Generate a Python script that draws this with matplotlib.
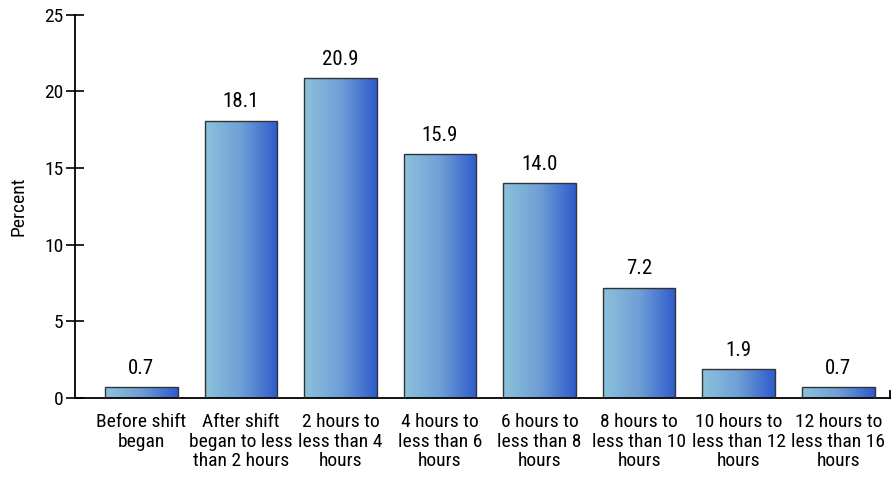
import numpy as np
import matplotlib.pyplot as plt
from matplotlib import font_manager
from matplotlib.colors import LinearSegmentedColormap

# pick a narrow font if one is installed
names = {f.name for f in font_manager.fontManager.ttflist}
narrow = [n for n in ['Liberation Sans Narrow', 'Roboto Condensed', 'Open Sans Condensed',
                      'Noto Sans Condensed', 'DejaVu Sans Condensed'] if n in names]
condensed_dejavu = any(f.name == 'DejaVu Sans' and f.stretch == 'condensed'
                       for f in font_manager.fontManager.ttflist)
if narrow:
    plt.rcParams['font.family'] = [narrow[0], 'DejaVu Sans']
    fs = 14
elif condensed_dejavu:
    plt.rcParams['font.family'] = ['DejaVu Sans']
    plt.rcParams['font.stretch'] = 'condensed'
    fs = 12
else:
    plt.rcParams['font.family'] = ['Roboto', 'DejaVu Sans']
    fs = 11.5

# Data
categories = ['Before shift\nbegan', 'After shift\nbegan to less\nthan 2 hours',
              '2 hours to\nless than 4\nhours', '4 hours to\nless than 6\nhours',
              '6 hours to\nless than 8\nhours', '8 hours to\nless than 10\nhours',
              '10 hours to\nless than 12\nhours', '12 hours to\nless than 16\nhours']
values = [0.7, 18.1, 20.9, 15.9, 14.0, 7.2, 1.9, 0.7]
yticks = [0, 5, 10, 15, 20, 25]

fig = plt.figure(figsize=(8.94, 4.8), dpi=100)
ax = fig.add_axes([0.084, 0.171, 0.9115, 0.798])

cmap = LinearSegmentedColormap.from_list('grad', ['#8cc2dc', '#6f9fd6', '#2e5bcb'])
grad = np.linspace(0, 1, 256).reshape(1, -1)

x = np.arange(len(values))
bars = ax.bar(x, values, width=0.73, color='none', edgecolor='#333333', linewidth=1.0, zorder=3)
for b in bars:
    x0, y0 = b.get_x(), b.get_y()
    w, h = b.get_width(), b.get_height()
    im = ax.imshow(grad, cmap=cmap, aspect='auto', extent=[x0, x0 + w, y0, y0 + h],
                   origin='lower', zorder=2)
    im.set_clip_path(b)
    ax.text(x0 + w / 2, h + 0.6, f'{h:.1f}', ha='center', va='bottom', fontsize=fs + 1)

ax.set_xlim(-0.666, 7.52)
ax.set_ylim(0, 25)
ax.set_yticks(yticks)
ax.set_xticks(x)
ax.set_xticklabels(categories, fontsize=fs, linespacing=1.1)
ax.tick_params(axis='x', length=0, pad=11)
ax.tick_params(axis='y', direction='inout', length=13, width=1.2, labelsize=fs, pad=2)
ax.set_ylabel('Percent', fontsize=fs, labelpad=12)

for s in ['top', 'right']:
    ax.spines[s].set_visible(False)
ax.spines['left'].set_linewidth(1.3)
ax.spines['bottom'].set_linewidth(1.3)
# small tick at right end of x axis
ax.plot([1, 1], [0, 0.018], transform=ax.transAxes, color='black', lw=1.3, clip_on=False)

fig.savefig('out.png', dpi=100)
